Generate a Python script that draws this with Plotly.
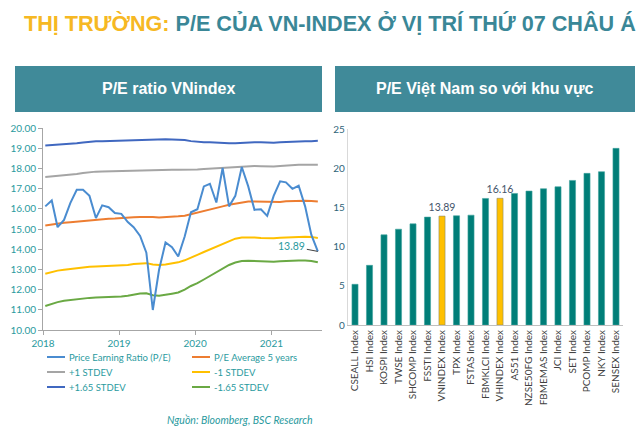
import plotly.graph_objects as go

W, H = 640, 434

# ---------------- data: left chart (monthly, Jan 2018 - Aug 2021) ----------------
years = [2018, 2019, 2020, 2021]
year_labels = ["2018", "2019", "2020", "2021"]
dates = [f"{y}-{m:02d}-12" for y in (2018, 2019, 2020, 2021) for m in range(1, 13)][:44]

pe_ratio = [16.12, 16.41, 15.09, 15.45, 16.28, 16.94, 16.94, 16.64, 15.54, 16.17, 16.08, 15.79,
            15.75, 15.34, 15.09, 14.66, 13.83, 10.99, 12.98, 14.33, 14.10, 13.64, 14.63, 15.83,
            15.98, 17.11, 17.24, 16.31, 18.02, 16.12, 16.64, 18.07, 17.11, 15.95, 15.98, 15.65,
            16.64, 17.36, 17.31, 16.99, 17.14, 16.12, 14.71, 13.89]
pe_avg5 = [15.17, 15.23, 15.27, 15.31, 15.34, 15.37, 15.40, 15.44, 15.48, 15.50, 15.51, 15.52,
           15.53, 15.55, 15.58, 15.60, 15.61, 15.59, 15.57, 15.58, 15.61, 15.63, 15.66, 15.73,
           15.80, 15.88, 15.96, 16.04, 16.12, 16.20, 16.26, 16.32, 16.36, 16.36, 16.35, 16.33,
           16.32, 16.34, 16.37, 16.39, 16.40, 16.40, 16.39, 16.36]
plus1 = [17.57, 17.60, 17.62, 17.64, 17.67, 17.72, 17.77, 17.81, 17.84, 17.85, 17.86, 17.87,
         17.88, 17.89, 17.90, 17.91, 17.91, 17.92, 17.93, 17.93, 17.93, 17.93, 17.93, 17.94,
         17.95, 17.97, 17.99, 18.01, 18.03, 18.05, 18.07, 18.10, 18.13, 18.12, 18.11, 18.09,
         18.09, 18.12, 18.15, 18.17, 18.18, 18.18, 18.18, 18.18]
minus1 = [12.78, 12.88, 12.94, 12.98, 13.02, 13.05, 13.09, 13.13, 13.14, 13.15, 13.16, 13.17,
          13.19, 13.22, 13.27, 13.30, 13.31, 13.24, 13.22, 13.24, 13.30, 13.35, 13.45, 13.60,
          13.72, 13.86, 13.99, 14.13, 14.28, 14.42, 14.52, 14.58, 14.59, 14.58, 14.56, 14.54,
          14.54, 14.57, 14.59, 14.60, 14.61, 14.62, 14.61, 14.56]
plus165 = [19.13, 19.15, 19.16, 19.17, 19.20, 19.24, 19.28, 19.32, 19.34, 19.35, 19.36, 19.36,
           19.37, 19.38, 19.38, 19.39, 19.40, 19.44, 19.45, 19.44, 19.43, 19.42, 19.40, 19.35,
           19.32, 19.30, 19.30, 19.27, 19.26, 19.24, 19.24, 19.27, 19.30, 19.30, 19.29, 19.27,
           19.27, 19.29, 19.31, 19.33, 19.34, 19.35, 19.35, 19.37]
minus165 = [11.19, 11.30, 11.38, 11.45, 11.49, 11.52, 11.55, 11.59, 11.61, 11.62, 11.63, 11.64,
            11.66, 11.70, 11.76, 11.81, 11.82, 11.72, 11.69, 11.73, 11.80, 11.86, 12.00, 12.18,
            12.32, 12.50, 12.67, 12.86, 13.05, 13.22, 13.34, 13.42, 13.43, 13.42, 13.40, 13.38,
            13.38, 13.40, 13.42, 13.43, 13.44, 13.44, 13.42, 13.35]

series_names = ["Price Earning Ratio (P/E)", "P/E Average 5 years", "+1 STDEV", "-1 STDEV",
                "+1.65 STDEV", "-1.65 STDEV"]

# ---------------- data: right chart ----------------
indices = ["CSEALL Index", "HSI Index", "KOSPI Index", "TWSE Index", "SHCOMP Index", "FSSTI Index",
           "VNINDEX Index", "TPX Index", "FSTAS Index", "FBMKLCI Index", "VHINDEX Index", "AS51 Index",
           "NZSE50FG Index", "FBMEMAS Index", "JCI Index", "SET Index", "PCOMP Index", "NKY Index",
           "SENSEX Index"]
pe_values = [5.19, 7.61, 11.50, 12.22, 12.90, 13.76, 13.89, 13.93, 14.01, 16.14, 16.16, 16.78,
             17.08, 17.38, 17.63, 18.44, 19.34, 19.55, 22.53]
highlighted = ["VNINDEX Index", "VHINDEX Index"]

# ---------------- styles ----------------
TEAL_TXT = "#2A9A9E"
HEADER = "#408A99"
TITLE_TEAL = "#3A8797"
GOLD = "#F6B823"
BAR_TEAL = "#007E78"
BAR_GOLD = "#FFC000"
colors = {
    "Price Earning Ratio (P/E)": "#4A8CD0",
    "P/E Average 5 years": "#ED7D31",
    "+1 STDEV": "#A5A5A5",
    "-1 STDEV": "#FFC000",
    "+1.65 STDEV": "#4068C0",
    "-1.65 STDEV": "#6AA944",
}
series_data = {
    "Price Earning Ratio (P/E)": pe_ratio,
    "P/E Average 5 years": pe_avg5,
    "+1 STDEV": plus1,
    "-1 STDEV": minus1,
    "+1.65 STDEV": plus165,
    "-1.65 STDEV": minus165,
}


def px(x):
    return x / W


def py(y):
    return 1 - y / H


fig = go.Figure()

draw_order = ["+1.65 STDEV", "+1 STDEV", "P/E Average 5 years", "-1 STDEV", "-1.65 STDEV",
              "Price Earning Ratio (P/E)"]
for name in draw_order:
    fig.add_trace(go.Scatter(
        x=dates, y=series_data[name], mode="lines", name=name,
        line=dict(color=colors[name], width=2), xaxis="x", yaxis="y",
        hoverinfo="skip"))

bar_colors = [BAR_GOLD if c in highlighted else BAR_TEAL for c in indices]
bar_text = [f"{v:.2f}" if c in highlighted else "" for c, v in zip(indices, pe_values)]
fig.add_trace(go.Bar(
    x=indices, y=pe_values, xaxis="x2", yaxis="y2",
    marker=dict(color=bar_colors,
                line=dict(color=["#8C8C6A" if c in highlighted else "#3FA39E" for c in indices],
                          width=0.6)),
    width=0.42, text=bar_text, textposition="outside", cliponaxis=False,
    constraintext="none", textangle=0,
    textfont=dict(family="Lato", size=10.5, color="#44546A"),
    hoverinfo="skip"))

shapes = []
annotations = []

# header boxes
for (x0, x1, label) in [(15, 322, "P/E ratio VNindex"), (335, 635, "P/E Việt Nam so với khu vực")]:
    shapes.append(dict(type="rect", xref="paper", yref="paper", x0=px(x0), x1=px(x1),
                       y0=py(112), y1=py(66), fillcolor=HEADER, line=dict(width=0), layer="below"))
    annotations.append(dict(xref="paper", yref="paper", x=px((x0 + x1) / 2), y=py(89),
                            text=f"<b>{label}</b>", showarrow=False, xanchor="center", yanchor="middle",
                            font=dict(family="Liberation Sans", size=16, color="white")))

# main title
annotations.append(dict(
    xref="paper", yref="paper", x=px(22), y=py(23), xanchor="left", yanchor="middle",
    text=f"<b><span style='color:{GOLD}'>THỊ TRƯỜNG:</span> P/E CỦA VN-INDEX Ở VỊ TRÍ THỨ 07 CHÂU Á</b>",
    showarrow=False, font=dict(family="Liberation Sans", size=21.6, color=TITLE_TEAL)))

# last value label on left chart
annotations.append(dict(
    x=dates[-1], y=pe_ratio[-1], xref="x", yref="y", text=f"{pe_ratio[-1]:.2f}",
    showarrow=True, arrowhead=0, arrowwidth=1, arrowcolor="#404040", ax=-26, ay=-5,
    font=dict(family="Lato", size=10.5, color=TEAL_TXT)))

# manual legend (3 rows x 2 columns)
legend_pos = [(47, 357), (192, 357), (47, 372), (192, 372), (47, 387), (192, 387)]
for name, (lx, ly) in zip(series_names, legend_pos):
    shapes.append(dict(type="line", xref="paper", yref="paper", x0=px(lx), x1=px(lx + 18),
                       y0=py(ly), y1=py(ly), line=dict(color=colors[name], width=2)))
    annotations.append(dict(xref="paper", yref="paper", x=px(lx + 20), y=py(ly), text=name,
                            showarrow=False, xanchor="left", yanchor="middle",
                            font=dict(family="Lato", size=9.5, color=TEAL_TXT)))

# source
annotations.append(dict(xref="paper", yref="paper", x=px(315), y=py(420), xanchor="right",
                        yanchor="middle", text="<i>Nguồn: Bloomberg, BSC Research</i>",
                        showarrow=False, font=dict(family="Lato", size=10.5, color=TEAL_TXT)))

fig.update_layout(
    width=W, height=H, template="none", showlegend=False,
    margin=dict(l=0, r=0, t=0, b=0, pad=0),
    paper_bgcolor="white", plot_bgcolor="rgba(0,0,0,0)",
    shapes=shapes, annotations=annotations,
    xaxis=dict(domain=[px(43), px(322)], type="date", range=["2018-01-01", "2021-09-01"],
               tickvals=[f"{y}-01-01" for y in years], ticktext=year_labels,
               ticks="outside", ticklen=4, tickcolor="#A6A6A6", showline=True, linecolor="#A6A6A6",
               showgrid=False, zeroline=False, automargin=False, anchor="y",
               tickfont=dict(family="Lato", size=10, color=TEAL_TXT)),
    yaxis=dict(domain=[py(330), py(128)], range=[10, 20], dtick=1, tickformat=".2f",
               ticks="outside", ticklen=4, tickcolor="#A6A6A6", showline=True, linecolor="#A6A6A6",
               showgrid=False, zeroline=False, automargin=False, anchor="x",
               tickfont=dict(family="Lato", size=10, color=TEAL_TXT)),
    xaxis2=dict(domain=[px(347.75), px(623.25)], type="category", tickangle=-90,
                showline=True, linecolor="#BFBFBF", ticks="", showgrid=False, zeroline=False,
                automargin=False, anchor="y2",
                tickfont=dict(family="Lato", size=10, color="#404040")),
    yaxis2=dict(domain=[py(325), py(129)], range=[0, 25], dtick=5, showline=True,
                linecolor="#D9D9D9", ticks="", showgrid=False, zeroline=False,
                automargin=False, anchor="x2",
                tickfont=dict(family="Lato", size=10, color="#2F6479")),
    bargap=0.5,
)

fig.write_html("out.html")
